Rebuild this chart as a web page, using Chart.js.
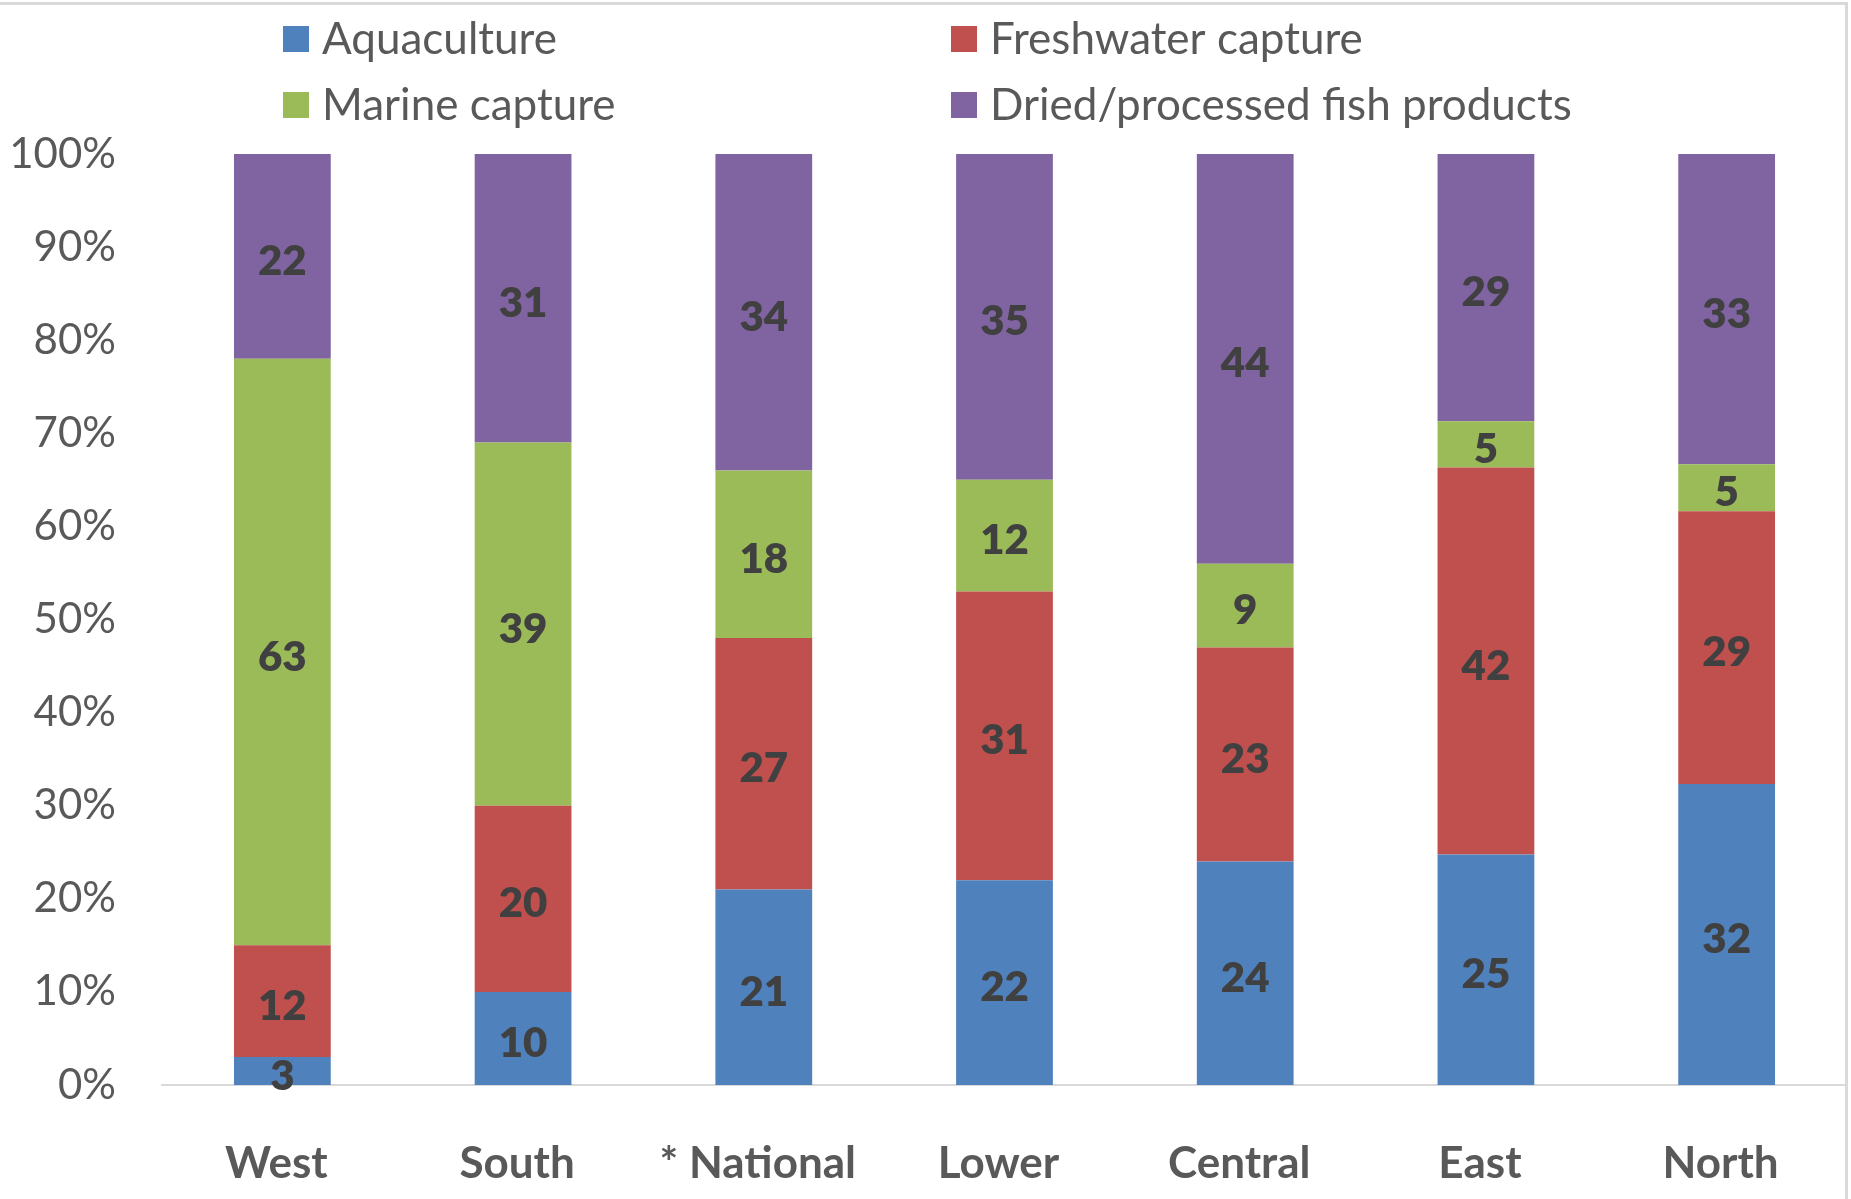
<!DOCTYPE html>
<html>
<head>
<meta charset="utf-8">
<title>Fish consumption by source</title>
<script src="https://cdn.jsdelivr.net/npm/chart.js@4.4.1/dist/chart.umd.min.js"></script>
<style>
  html, body { margin: 0; padding: 0; background: #ffffff; }
  #wrap { width: 1851px; height: 1199px; position: relative; }
</style>
</head>
<body>
<div id="wrap"><canvas id="chart"></canvas></div>
<script>
// Regions (x axis)
const regions = ['West', 'South', '* National', 'Lower', 'Central', 'East', 'North'];

// Share of fish consumed by source, per region (%)
const aquaculture   = [3, 10, 21, 22, 24, 25, 32];
const freshwater    = [12, 20, 27, 31, 23, 42, 29];
const marine        = [63, 39, 18, 12, 9, 5, 5];
const driedProducts = [22, 31, 34, 35, 44, 29, 33];

// Y axis tick labels
const yTicks = ['0%', '10%', '20%', '30%', '40%', '50%', '60%', '70%', '80%', '90%', '100%'];

const seriesNames  = ['Aquaculture', 'Freshwater capture', 'Marine capture', 'Dried/processed fish products'];
const seriesValues = [aquaculture, freshwater, marine, driedProducts];
const seriesColors = ['#4F81BD', '#C0504D', '#9BBB59', '#8064A2'];

// 100% stacked: each region's bar is scaled to its own total
const totals = regions.map((_, i) => seriesValues.reduce((s, arr) => s + arr[i], 0));

const datasets = seriesNames.map((name, k) => ({
  label: name,
  raw: seriesValues[k],
  data: seriesValues[k].map((v, i) => v / totals[i] * 100),
  backgroundColor: seriesColors[k],
  borderWidth: 0,
  categoryPercentage: 0.402,
  barPercentage: 1.0
}));

const FONT = 'Lato, "Open Sans", "DejaVu Sans", sans-serif';

// White background and the thin frame along the top and right edges
const framePlugin = {
  id: 'frame',
  beforeDraw(chart) {
    const c = chart.ctx;
    c.save();
    c.fillStyle = '#ffffff';
    c.fillRect(0, 0, chart.width, chart.height);
    c.fillStyle = '#d9d9d9';
    c.fillRect(0, 2, chart.width - 3, 3);
    c.fillRect(chart.width - 6, 2, 3, chart.height - 2);
    c.restore();
  }
};

// Two-column legend above the plot
const legendPlugin = {
  id: 'gridLegend',
  afterDraw(chart) {
    const c = chart.ctx;
    const cols = [283, 951];
    const rows = [39, 105];
    const box = 26;
    c.save();
    c.font = '44px ' + FONT;
    c.textBaseline = 'middle';
    c.textAlign = 'left';
    chart.data.datasets.forEach((ds, k) => {
      const x = cols[k % 2];
      const y = rows[Math.floor(k / 2)];
      c.fillStyle = ds.backgroundColor;
      c.fillRect(x, y - box / 2, box, box);
      c.fillStyle = '#595959';
      c.fillText(ds.label, x + box + 13, y + 1);
    });
    c.restore();
  }
};

// Value labels centred in each segment
const valueLabelPlugin = {
  id: 'valueLabels',
  afterDatasetsDraw(chart) {
    const c = chart.ctx;
    c.save();
    c.font = '800 42px ' + FONT;
    c.fillStyle = '#404040';
    c.textAlign = 'center';
    c.textBaseline = 'middle';
    chart.data.datasets.forEach((ds, k) => {
      const meta = chart.getDatasetMeta(k);
      meta.data.forEach((bar, i) => {
        const y = (bar.y + bar.base) / 2;
        c.fillText(String(ds.raw[i]), bar.x, y + 5);
      });
    });
    c.restore();
  }
};

new Chart(document.getElementById('chart'), {
  type: 'bar',
  data: { labels: regions, datasets },
  plugins: [framePlugin, legendPlugin, valueLabelPlugin],
  options: {
    responsive: true,
    maintainAspectRatio: false,
    animation: false,
    layout: { padding: { top: 154, right: 4, bottom: 0, left: 0 } },
    plugins: {
      legend: { display: false },
      tooltip: { enabled: false },
      title: { display: false }
    },
    scales: {
      x: {
        stacked: true,
        grid: { display: false, drawTicks: false },
        border: { display: true, color: '#d9d9d9', width: 2 },
        ticks: {
          color: '#595959',
          font: { family: FONT, size: 44, weight: 'bold' },
          padding: 52,
          labelOffset: -6,
          maxRotation: 0,
          autoSkip: false
        },
        afterFit(scale) { scale.height = 114; }
      },
      y: {
        stacked: true,
        min: 0,
        max: 100,
        grid: { display: false, drawTicks: false },
        border: { display: false },
        ticks: {
          stepSize: 10,
          color: '#595959',
          font: { family: FONT, size: 42 },
          padding: 46,
          callback: (v) => yTicks[Math.round(v / 10)]
        },
        afterFit(scale) { scale.width = 162; }
      }
    }
  }
});
</script>
</body>
</html>
